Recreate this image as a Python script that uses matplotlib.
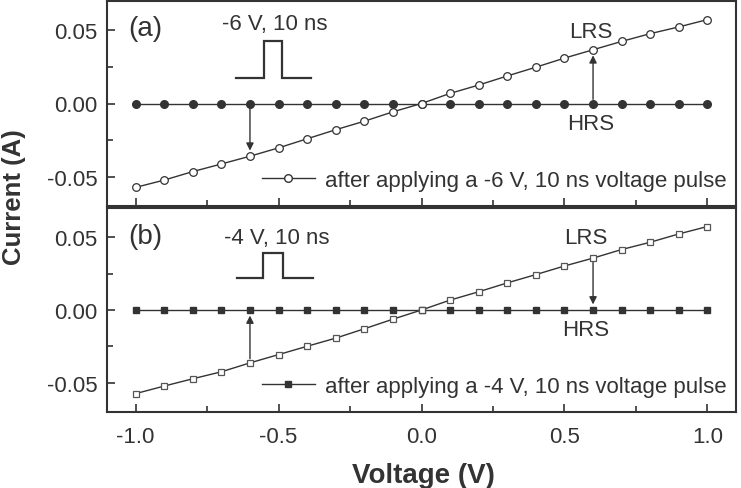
import matplotlib
matplotlib.use("Agg")
import matplotlib.pyplot as plt
from matplotlib.ticker import MultipleLocator, FormatStrFormatter
from matplotlib.lines import Line2D

plt.rcParams['font.family'] = ['Liberation Sans', 'DejaVu Sans']
plt.rcParams['axes.unicode_minus'] = False

# ---- data ----
voltage = [-1.0, -0.9, -0.8, -0.7, -0.6, -0.5, -0.4, -0.3, -0.2, -0.1, 0.0,
           0.1, 0.2, 0.3, 0.4, 0.5, 0.6, 0.7, 0.8, 0.9, 1.0]
lrs_a = [-0.0573, -0.0523, -0.0465, -0.0413, -0.0360, -0.0303, -0.0241, -0.0179,
         -0.0121, -0.0057, 0.0, 0.0069, 0.0126, 0.0188, 0.0248, 0.0310, 0.0367,
         0.0424, 0.0477, 0.0523, 0.0573]
hrs_a = [0.0, 0.0, 0.0, 0.0, 0.0, 0.0, 0.0, 0.0, 0.0, 0.0, 0.0,
         0.0, 0.0, 0.0, 0.0, 0.0, 0.0, 0.0, 0.0, 0.0, 0.0]
lrs_b = [-0.0574, -0.0522, -0.0472, -0.0424, -0.0363, -0.0306, -0.0249, -0.0193,
         -0.0129, -0.0063, 0.0, 0.0068, 0.0125, 0.0186, 0.0243, 0.0302, 0.0356,
         0.0415, 0.0465, 0.0522, 0.0573]
hrs_b = [0.0, 0.0, 0.0, 0.0, 0.0, 0.0, 0.0, 0.0, 0.0, 0.0, 0.0,
         0.0, 0.0, 0.0, 0.0, 0.0, 0.0, 0.0, 0.0, 0.0, 0.0]
legend_a = "after applying a -6 V, 10 ns voltage pulse"
legend_b = "after applying a -4 V, 10 ns voltage pulse"
pulse_a = "-6 V, 10 ns"
pulse_b = "-4 V, 10 ns"
xticks = [-1.0, -0.5, 0.0, 0.5, 1.0]
yticks = [-0.05, 0.0, 0.05]

C = '#333333'
fig = plt.figure(figsize=(7.41, 4.89), dpi=100)
L, R = 107 / 741, 736 / 741
axa = fig.add_axes([L, 1 - 207 / 489, R - L, 205 / 489])
axb = fig.add_axes([L, 1 - 413 / 489, R - L, 204 / 489])

def style(ax, labels):
    ax.set_xlim(-1.1, 1.1)
    ax.set_ylim(-0.07, 0.07)
    ax.set_xticks(xticks)
    ax.set_yticks(yticks)
    ax.xaxis.set_minor_locator(MultipleLocator(0.25))
    ax.yaxis.set_minor_locator(MultipleLocator(0.025))
    ax.yaxis.set_major_formatter(FormatStrFormatter('%.2f'))
    ax.xaxis.set_major_formatter(FormatStrFormatter('%.1f'))
    ax.tick_params(which='both', direction='in', top=False, right=False,
                   width=1.2, colors=C, labelsize=16, labelcolor=C)
    ax.tick_params(which='major', length=5.5)
    ax.tick_params(which='minor', length=4.5)
    ax.tick_params(axis='y', pad=7)
    ax.tick_params(axis='x', pad=10)
    if not labels:
        ax.tick_params(axis='x', labelbottom=False)
    for s in ax.spines.values():
        s.set_linewidth(1.5)
        s.set_color(C)

style(axa, False)
style(axb, True)

# panel (a)
axa.plot(voltage, hrs_a, '-', color=C, lw=1.0, marker='o', ms=5.5,
         mfc=C, mec=C, zorder=3)
axa.plot(voltage, lrs_a, '-', color=C, lw=1.0, marker='o', ms=5.5,
         mfc='white', mec=C, mew=0.9, zorder=4)
# panel (b)
axb.plot(voltage, hrs_b, '-', color=C, lw=1.0, marker='s', ms=4.8,
         mfc=C, mec=C, zorder=3)
axb.plot(voltage, lrs_b, '-', color=C, lw=1.0, marker='s', ms=5.0,
         mfc='white', mec='#555555', mew=0.9, zorder=4)

def arrow(ax, x0, y0, x1, y1):
    ax.annotate('', xy=(x1, y1), xytext=(x0, y0),
                arrowprops=dict(arrowstyle='-|>', color=C, lw=1.0,
                                mutation_scale=11, shrinkA=3, shrinkB=4),
                zorder=2)

ineg = voltage.index(-0.6)
ipos = voltage.index(0.6)
arrow(axa, voltage[ineg], hrs_a[ineg], voltage[ineg], lrs_a[ineg])
arrow(axa, voltage[ipos], hrs_a[ipos], voltage[ipos], lrs_a[ipos])
arrow(axb, voltage[ineg], lrs_b[ineg], voltage[ineg], hrs_b[ineg])
arrow(axb, voltage[ipos], lrs_b[ipos], voltage[ipos], hrs_b[ipos])

# pulse glyphs (axes fraction)
def pulse(ax, xs, ylo, yhi):
    x0, x1, x2, x3 = xs
    ax.plot([x0, x1, x1, x2, x2, x3], [ylo, ylo, yhi, yhi, ylo, ylo],
            color=C, lw=1.6, transform=ax.transAxes, solid_joinstyle='miter')

pulse(axa, (0.205, 0.249, 0.278, 0.324), 0.623, 0.803)
pulse(axb, (0.207, 0.248, 0.280, 0.328), 0.657, 0.779)

tk = dict(color=C, fontsize=16, ha='center', va='center')
axa.text(-0.965, 0.0516, '(a)', color=C, fontsize=20, ha='center', va='center')
axb.text(-0.965, 0.051, '(b)', color=C, fontsize=20, ha='center', va='center')
axa.text(-0.514, 0.0547, pulse_a, **tk)
axb.text(-0.507, 0.0498, pulse_b, **tk)
axa.text(0.591, 0.0492, 'LRS', **tk)
axa.text(0.591, -0.0134, 'HRS', **tk)
axb.text(0.573, 0.0495, 'LRS', **tk)
axb.text(0.573, -0.0136, 'HRS', **tk)

h_a = Line2D([], [], color=C, lw=1.0, marker='o', ms=5.5, mfc='white', mec=C)
h_b = Line2D([], [], color=C, lw=1.0, marker='s', ms=4.8, mfc=C, mec=C)
for ax, h, lab in ((axa, h_a, legend_a), (axb, h_b, legend_b)):
    lg = ax.legend([h], [lab], loc='lower right', bbox_to_anchor=(0.985, 0.075),
                   frameon=False, fontsize=16, handlelength=2.4,
                   handletextpad=0.45, borderpad=0, borderaxespad=0)
    for t in lg.get_texts():
        t.set_color(C)

fig.text(14 / 741, 1 - 197.5 / 489, 'Current (A)', rotation=90, fontsize=18.5,
         fontweight='bold', color=C, ha='center', va='center')
fig.text(423 / 741, 1 - 476 / 489, 'Voltage (V)', fontsize=20,
         fontweight='bold', color=C, ha='center', va='center')

fig.savefig('out.png', dpi=100)
